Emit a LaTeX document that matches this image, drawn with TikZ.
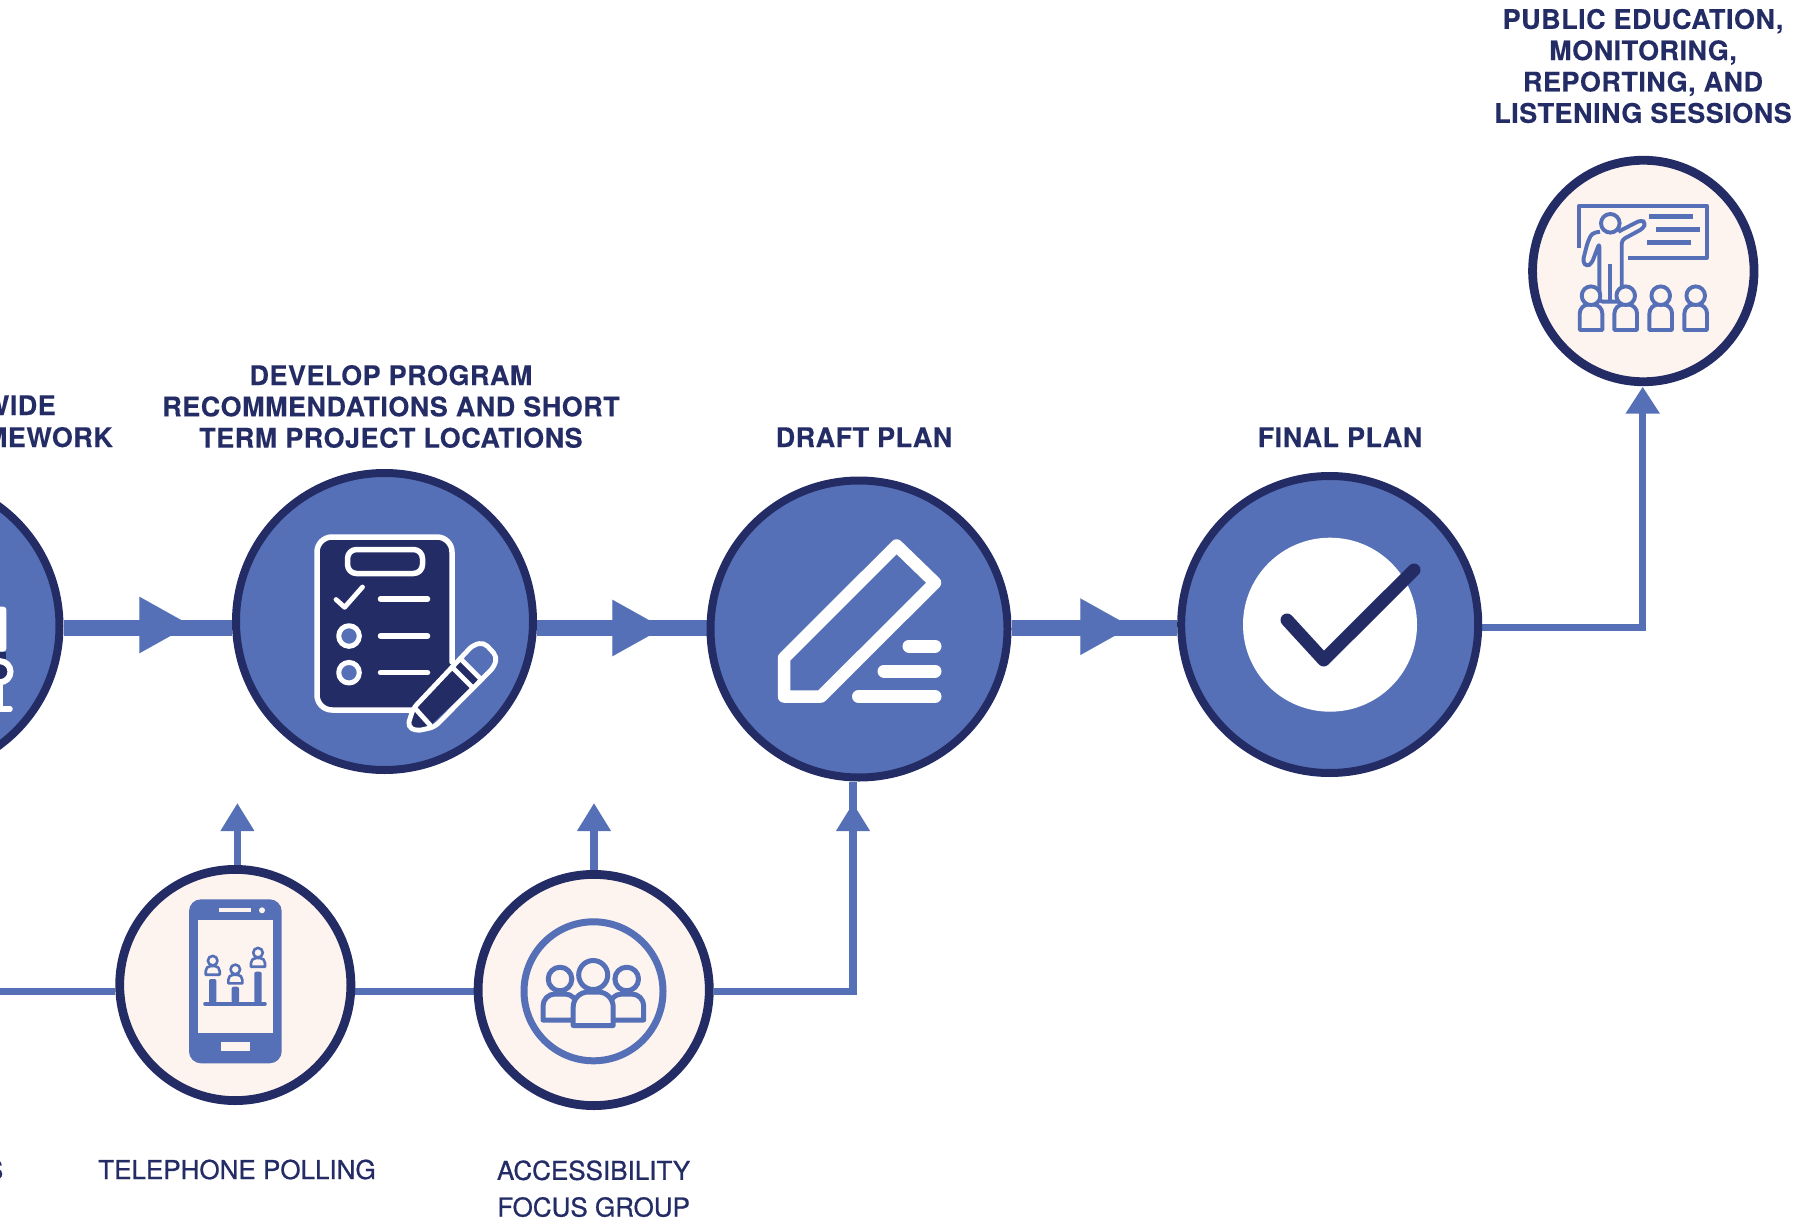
\documentclass[tikz,border=0pt]{standalone}
\usepackage{fontspec}
\setmainfont[BoldFont={TeX Gyre Heros Bold},BoldFeatures={FakeBold=0.15,LetterSpace=1.8}]{TeX Gyre Heros}
\newfontfamily\medfont[FakeBold=0.8]{TeX Gyre Heros}
\usetikzlibrary{arrows.meta}
\definecolor{bluefill}{RGB}{86,112,183}
\definecolor{navy}{RGB}{36,44,102}
\definecolor{pinkfill}{RGB}{253,243,239}
\pgfdeclarelayer{bg}
\pgfsetlayers{bg,main}
\tikzset{
  bigcirc/.style={circle,draw=navy,fill=bluefill,line width=8pt,minimum size=297pt,inner sep=0pt},
  smallcirc/.style={circle,draw=navy,fill=pinkfill,line width=8.8pt,minimum size=#1,inner sep=0pt},
  thickflow/.style={draw=bluefill,line width=16.5pt},
  thinflow/.style={draw=bluefill,line width=7.5pt},
  bigtip/.style={draw=bluefill,line width=.1pt,-{Triangle[length=50.7pt,width=56.6pt,fill=bluefill]}},
  upflow/.style={thinflow,-{Triangle[length=28pt,width=32pt,fill=bluefill]}},
  headbold/.style={text=navy,font=\fontsize{27}{31.3}\selectfont\bfseries,align=center,inner sep=0pt},
  sublabel/.style={text=navy,font=\medfont\fontsize{26}{36.7}\selectfont,align=center,inner sep=0pt},
  wicon/.style={draw=white,line cap=round,line join=round},
  bicon/.style={draw=bluefill,line join=round},
}
\newcommand{\figperson}[8]{% x, head y, head r, half width, top, bottom, lw, corner
  \draw[bicon,line width=#7pt,fill=pinkfill] (#1-#4,#6) [rounded corners=#8pt] -- (#1-#4,#5) -- (#1+#4,#5) [sharp corners] -- (#1+#4,#6) -- cycle;
  \draw[bicon,line width=#7pt,fill=pinkfill] (#1,#2) circle (#3);
}
\begin{document}
\begin{tikzpicture}[x=1pt,y=-1pt]
\useasboundingbox (0,0) rectangle (1814,1230);
\clip (0,0) rectangle (1814,1230);

% circles
\node[bigcirc] (frame) at (-89,626) {};
\node[bigcirc] (develop) at (384.5,621.5) {};
\node[bigcirc] (draft) at (859,629) {};
\node[bigcirc] (final) at (1329.7,624.5) {};
\node[smallcirc=231.2pt] (phone) at (235.3,985) {};
\node[smallcirc=231.2pt] (access) at (593.7,990) {};
\node[smallcirc=221.5pt] (public) at (1643.3,271) {};

% free ends
\coordinate (leftedge) at (0,991.7);
\coordinate (corner1) at (853,991.7);
\coordinate (corner2) at (1642.7,627.3);
\coordinate (publictip) at (1642.7,386.7);
\coordinate (phonetip) at (237.4,803);
\coordinate (accesstip) at (594,803);
\coordinate (drafttip) at (853,803);
\coordinate (a1s) at (139.3,625);
\coordinate (a1e) at (190,625);
\coordinate (a2s) at (612,628);
\coordinate (a2e) at (663,628);
\coordinate (a3s) at (1080,626.7);
\coordinate (a3e) at (1131,626.7);

% connectors
\begin{pgfonlayer}{bg}
\draw[thickflow] (frame.east |- 0,628) -- (develop.west |- 0,628);
\draw[thickflow] (develop.east |- 0,628) -- (draft.west |- 0,628);
\draw[thickflow] (draft.east |- 0,628) -- (final.west |- 0,628);
\draw[bigtip] (a1s) -- (a1e);
\draw[bigtip] (a2s) -- (a2e);
\draw[bigtip] (a3s) -- (a3e);
\draw[thinflow] (leftedge) -- (phone.west |- leftedge);
\draw[thinflow] (phone.east |- leftedge) -- (access.west |- leftedge);
\draw[thinflow] (access.east |- leftedge) -- (corner1) -- (draft.south -| corner1);
\draw[upflow] (corner1 |- 0,835) -- (drafttip);
\draw[upflow] (phone.north -| phonetip) -- (phonetip);
\draw[upflow] (access.north -| accesstip) -- (accesstip);
\draw[thinflow,line join=miter,-{Triangle[length=27pt,width=32.6pt,fill=bluefill]}] (final.east |- corner2) -- (corner2) -- (publictip);
\end{pgfonlayer}

% left cut-off icon
\fill[white,rounded corners=3pt] (-10,606.7) -- (6.4,606.7) -- (6.4,651.5) -- (-10,651.5) -- cycle;
\fill[navy] (-5,651.5) rectangle (6,660);
\draw[white,line width=6pt,fill=navy] (0,671.7) circle (10.5);
\draw[wicon,line width=5.5pt] (0,684) -- (0,709) -- (10,709);

% checklist icon
\fill[navy,rounded corners=15pt] (317,537) -- (452,537) -- (452,700) -- (440,710) -- (317,710) -- cycle;
\fill[bluefill] (452.5,664) -- (460,700) -- (414,716) -- cycle;
\draw[wicon,line width=5.5pt] (452,662) [rounded corners=15pt] -- (452,537) -- (317,537) -- (317,710) [sharp corners] -- (412,710);
\draw[wicon,line width=5.5pt,rounded corners=9pt] (347.5,549.5) rectangle (422.5,573.5);
\draw[wicon,line width=4.8pt] (336,599.5) -- (344.6,607.3) -- (362.5,587);
\draw[wicon,line width=5.5pt] (380.5,599) -- (427.5,599);
\draw[wicon,line width=5.5pt] (380.5,636) -- (427.5,636);
\draw[wicon,line width=5.5pt] (380.5,672.7) -- (427.5,672.7);
\draw[wicon,line width=5pt,fill=bluefill] (349,636) circle (10.3);
\draw[wicon,line width=5pt,fill=bluefill] (349,672.7) circle (10.3);
% pencil
\fill[navy] (413.3,708.3) -- (460.2,658.5) -- (480,678.3) -- (431,725) -- (416.7,729.3) -- (409.3,725) -- cycle;
\draw[wicon,line width=4.8pt,rounded corners=5pt] (413.3,708.3) -- (473,645) -- (484,642.5) -- (497,656.5) -- (494,667) -- (434.5,727) -- (416.7,731) -- (407.5,726.5) -- cycle;
\draw[wicon,line width=4.8pt] (452.1,667.1) -- (471.7,686.7);
\draw[wicon,line width=4.8pt] (460.2,658.5) -- (480,678.3);
\draw[wicon,line width=4.8pt] (415,708.3) -- (430,725);

% draft icon
\draw[wicon,line width=12.5pt] (896.6,545.5) -- (935,582.7) -- (821,696.5) -- (784,696.5) -- (784,658) -- cycle;
\draw[wicon,line width=13pt] (909,646) -- (935,646);
\draw[wicon,line width=13pt] (884,671) -- (935,671);
\draw[wicon,line width=13pt] (858.5,696.5) -- (935,696.5);

% final icon
\fill[white] (1330,624.7) circle (87);
\draw[navy,line width=13pt,line cap=round,line join=round] (1287,620) -- (1323.7,660) -- (1414,570);

% phone icon
\fill[bluefill,rounded corners=12pt] (189,899.3) rectangle (281.7,1063.3);
\fill[pinkfill] (197.7,920) rectangle (272.7,1032.7);
\fill[pinkfill] (219.3,908.3) rectangle (251.3,912);
\fill[pinkfill] (262,910.3) circle (3);
\fill[pinkfill] (220.7,1042.3) rectangle (250,1051);
\draw[draw=bluefill,line width=3.6pt,line cap=round] (205,1003.7) -- (265,1003.7);
\fill[bluefill,rounded corners=2pt] (209,979) rectangle (216.4,1003);
\fill[bluefill,rounded corners=2pt] (231.6,986.7) rectangle (239,1003);
\fill[bluefill,rounded corners=2pt] (254.3,971.7) rectangle (261.7,1003);
\figperson{212.7}{960.7}{4.8}{7}{966}{974.7}{2.6}{5}
\figperson{235.3}{969.4}{4.8}{7}{974.7}{983.4}{2.6}{5}
\figperson{258}{952.7}{4.8}{7}{958}{966.7}{2.6}{5}

% group icon
\draw[draw=bluefill,line width=7pt] (593.5,991.3) circle (69.5);
\figperson{560}{979}{11.8}{17}{994}{1020}{5}{12}
\figperson{626.7}{979}{11.8}{17}{994}{1020}{5}{12}
\figperson{593.2}{975}{14.5}{20}{992}{1025.5}{5}{15}

% presenter icon
\draw[bicon,line width=3.9pt] (1579.3,248.3) -- (1579.3,205.7) -- (1706.7,205.7) -- (1706.7,257.7) -- (1628.3,257.7);
\draw[draw=bluefill,line width=4.7pt] (1649,216.3) -- (1692.7,216.3);
\draw[draw=bluefill,line width=4.7pt] (1656,229.3) -- (1700,229.3);
\draw[draw=bluefill,line width=4.7pt] (1647,242.3) -- (1691,242.3);
\draw[bicon,line width=3.9pt,fill=pinkfill] (1610.3,223.3) circle (9.3);
\draw[bicon,line width=3.9pt,rounded corners=3.5pt] (1600,231.7) -- (1591.7,233.3) -- (1587.3,243.3) -- (1582.7,261.7) -- (1586.7,266.7) -- (1591.7,263.3) -- (1599.3,243.3) -- (1599.3,301.7) -- (1621.7,301.7) -- (1621.7,240) -- (1643.3,228.3) -- (1645.7,222.7) -- (1641,220) -- (1618.3,231.7);
\draw[draw=bluefill,line width=3.9pt] (1610.3,264.3) -- (1610.3,301.7);
\figperson{1591}{295.7}{9.3}{11.3}{304.5}{330}{3.9}{9}
\figperson{1625.7}{295.7}{9.3}{11.3}{304.5}{330}{3.9}{9}
\figperson{1660.7}{295.7}{9.3}{11.3}{304.5}{330}{3.9}{9}
\figperson{1695.7}{295.7}{9.3}{11.3}{304.5}{330}{3.9}{9}

% labels
\node[headbold,anchor=base east] (lwide) at (56,415) {WIDE};
\node[headbold,anchor=base east] (lmework) at (113,447) {MEWORK};
\node[headbold,anchor=center] (ldevelop) at (391,406.5) {DEVELOP PROGRAM\\RECOMMENDATIONS AND SHORT\\TERM PROJECT LOCATIONS};
\node[headbold,anchor=base] (ldraft) at (864,447) {DRAFT PLAN};
\node[headbold,anchor=base] (lfinal) at (1340,447) {FINAL PLAN};
\node[headbold,anchor=center] (lpublic) at (1643,66) {PUBLIC EDUCATION,\\MONITORING,\\REPORTING, AND\\LISTENING SESSIONS};
\node[sublabel,anchor=base east] (ls) at (3.5,1179) {S};
\node[sublabel,anchor=base] (lphone) at (237,1179) {TELEPHONE POLLING};
\node[sublabel,anchor=center] (laccess) at (593.6,1188.7) {ACCESSIBILITY\\FOCUS GROUP};
\end{tikzpicture}
\end{document}
